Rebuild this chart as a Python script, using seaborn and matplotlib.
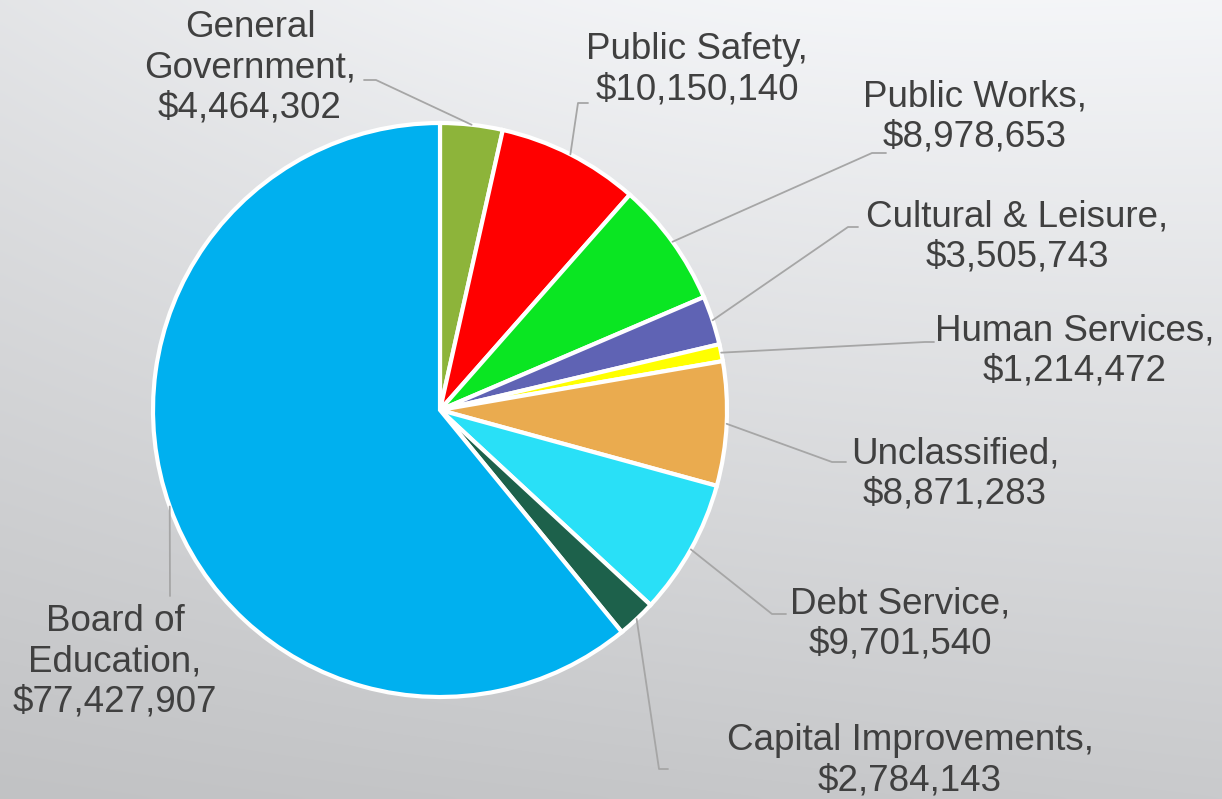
import numpy as np
import matplotlib.pyplot as plt
import seaborn as sns

# ── Data ──────────────────────────────────────────────────────────────────────

DEPARTMENTS = [
    "General\nGovernment",
    "Public Safety",
    "Public Works",
    "Cultural & Leisure",
    "Human Services",
    "Unclassified",
    "Debt Service",
    "Capital Improvements",
    "Board of\nEducation",
]
AMOUNTS = [4464302, 10150140, 8978653, 3505743, 1214472,
           8871283, 9701540, 2784143, 77427907]
SLICE_COLORS = ["#8db43a", "#ff0000", "#0ae622", "#5f63b4", "#ffff00",
                "#eaab4f", "#29e0f7", "#1d614b", "#00b0ef"]

# ── Layout (pixels, origin top-left) ──────────────────────────────────────────

W, H = 1222, 799
CENTER = (440, 410)
RADIUS = 287
LABEL_POS = [(250, 68), (697, 70), (975, 117), (1017, 237), (1075, 351),
             (955, 474), (900, 624), (910, 761), (115, 662)]
# (elbow, end next to text) for each leader line
LEADERS = [((376, 80), (364, 80)),
           ((578, 103), (588, 103)),
           ((872, 153), (886, 153)),
           ((848, 227), (858, 227)),
           ((925, 342), (934, 342)),
           ((832, 462), (846, 462)),
           ((772, 614), (786, 614)),
           ((659, 769), (668, 769)),
           ((170, 596), (170, 596))]

TEXT_COLOR = "#404040"
LINE_COLOR = "#a6a6a6"

sns.set_style("white")
plt.rcParams["font.family"] = ["Liberation Sans", "DejaVu Sans"]


def fy(y):
    return H - y


fig = plt.figure(figsize=(W / 100, H / 100), dpi=100)
ax = fig.add_axes([0, 0, 1, 1])

# background gradient (bilinear between corner greys)
tl, tr, bl, br = 0xe5, 0xf5, 0xc2, 0xca
u = np.linspace(0, 1, 300)[None, :]
v = np.linspace(0, 1, 200)[:, None]
g = (tl * (1 - u) * (1 - v) + tr * u * (1 - v) + bl * (1 - u) * v + br * u * v)
g = g + 6 * np.sin(np.pi * u) * (1 - v)  # a little lighter across the top
g = np.clip(g, 0, 255) / 255.0
bg = np.dstack([g * 0.995, g, g * 1.01])
bg = np.clip(bg, 0, 1)
ax.imshow(bg, extent=(0, W, 0, H), origin="upper", aspect="auto", zorder=0,
          interpolation="bicubic")

wedges, _ = ax.pie(
    AMOUNTS,
    colors=SLICE_COLORS,
    startangle=90,
    counterclock=False,
    center=(CENTER[0], fy(CENTER[1])),
    radius=RADIUS,
    wedgeprops=dict(edgecolor="white", linewidth=3),
)

for w, name, amt, (tx, ty), (elbow, end) in zip(
        wedges, DEPARTMENTS, AMOUNTS, LABEL_POS, LEADERS):
    mid = np.deg2rad((w.theta1 + w.theta2) / 2)
    ex = CENTER[0] + RADIUS * np.cos(mid)
    ey = fy(CENTER[1]) + RADIUS * np.sin(mid)
    ax.plot([ex, elbow[0], end[0]], [ey, fy(elbow[1]), fy(end[1])],
            color=LINE_COLOR, linewidth=1.3, zorder=1)
    ax.text(tx, fy(ty), f"{name},\n${amt:,}", ha="center", va="center",
            multialignment="center", fontsize=26.5, color=TEXT_COLOR,
            linespacing=1.2, zorder=3)

ax.set_xlim(0, W)
ax.set_ylim(0, H)
ax.set_aspect("auto")
ax.axis("off")

fig.savefig("out.png", dpi=100)
